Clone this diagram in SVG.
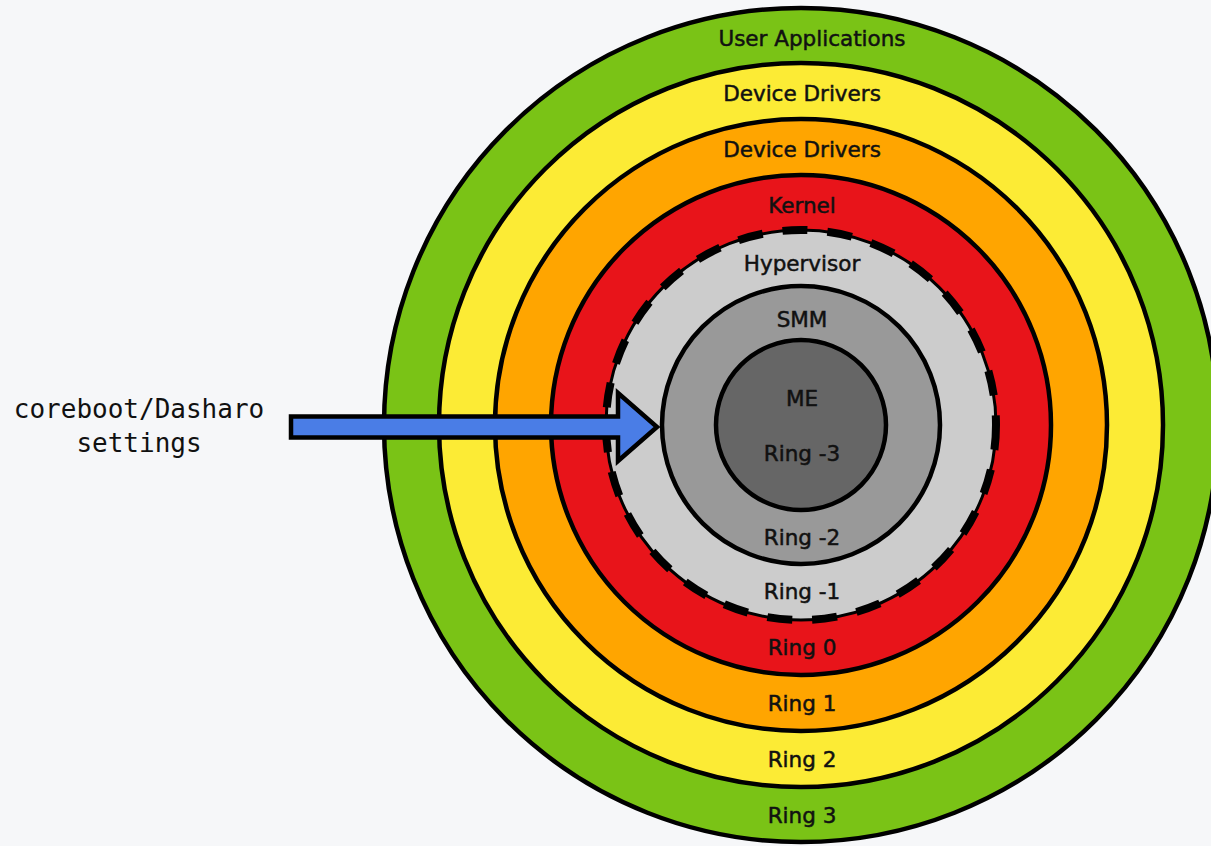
<svg xmlns="http://www.w3.org/2000/svg" width="1211" height="846" viewBox="0 0 1211 846">
  <style>
    .ring { stroke: #000; stroke-width: 4.5; }
    .lbl { font-family: "DejaVu Sans", "Liberation Sans", sans-serif; font-size: 21.5px; fill: #111; stroke: #111; stroke-width: 0.5; text-anchor: middle; dominant-baseline: central; }
    .side { font-family: "DejaVu Sans Mono", "Liberation Mono", monospace; font-size: 26px; fill: #111; text-anchor: middle; }
  </style>
  <rect x="0" y="0" width="1211" height="846" fill="#f6f7f9"/>
  <g id="ring3">
    <circle class="ring" cx="801" cy="425" r="417" fill="#7ac316"/>
  </g>
  <g id="ring2">
    <circle class="ring" cx="801" cy="425" r="362" fill="#fceb35"/>
  </g>
  <g id="ring1">
    <circle class="ring" cx="801" cy="425" r="306" fill="#ffa500"/>
  </g>
  <g id="ring0">
    <circle class="ring" cx="801" cy="425" r="250" fill="#e8141a"/>
  </g>
  <g id="ring-1">
    <circle cx="801" cy="425" r="195" fill="#cccccc" stroke="#000" stroke-width="3"/>
    <circle cx="801" cy="425" r="195" fill="none" stroke="#000" stroke-width="8" stroke-dasharray="25 20"/>
  </g>
  <g id="ring-2">
    <circle class="ring" cx="801" cy="425" r="139" fill="#999999"/>
  </g>
  <g id="ring-3">
    <circle class="ring" cx="801" cy="425" r="85" fill="#666666"/>
  </g>
  <g id="labels">
    <text class="lbl" x="812" y="38">User Applications</text>
    <text class="lbl" x="802" y="93">Device Drivers</text>
    <text class="lbl" x="802" y="149">Device Drivers</text>
    <text class="lbl" x="802" y="205">Kernel</text>
    <text class="lbl" x="802" y="263">Hypervisor</text>
    <text class="lbl" x="802" y="319">SMM</text>
    <text class="lbl" x="802" y="398">ME</text>
    <text class="lbl" x="802" y="453">Ring -3</text>
    <text class="lbl" x="802" y="537">Ring -2</text>
    <text class="lbl" x="802" y="591">Ring -1</text>
    <text class="lbl" x="802" y="647">Ring 0</text>
    <text class="lbl" x="802" y="703">Ring 1</text>
    <text class="lbl" x="802" y="759">Ring 2</text>
    <text class="lbl" x="802" y="815">Ring 3</text>
  </g>
  <g id="source-label">
    <text class="side" x="139" y="418">coreboot/Dasharo</text>
    <text class="side" x="139" y="452">settings</text>
  </g>
  <g id="connectors">
    <polygon points="291,416.5 618,416.5 618,393 657,427 618,461 618,437.5 291,437.5" fill="#4a7de6" stroke="#000" stroke-width="4.5" stroke-linejoin="miter"/>
  </g>
</svg>
